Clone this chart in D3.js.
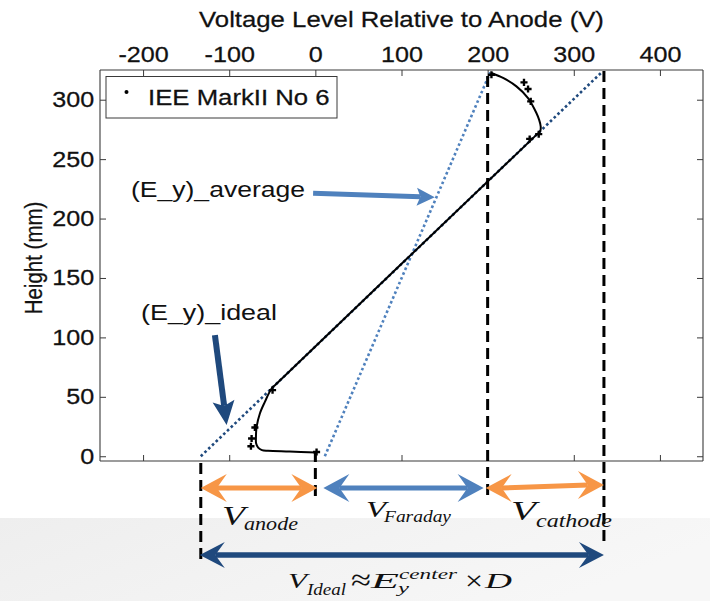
<!DOCTYPE html>
<html>
<head>
<meta charset="utf-8">
<script src="https://cdn.jsdelivr.net/npm/d3@7"></script>
<style>
  body { margin: 0; background: #fff; }
  svg { display: block; }
</style>
</head>
<body>
<svg id="chart" width="710" height="601"></svg>
<script>
// Potential along the channel height: probe readings, fitted profile,
// ideal and average field lines, and the voltage-drop breakdown beneath.

const xTicks = [-200, -100, 0, 100, 200, 300, 400];
const yTicks = [0, 50, 100, 150, 200, 250, 300];
const xDomain = [-250, 450];
const yDomain = [-4, 325];

// probe readings (V relative to anode, height in mm)
const measuredV = [1.4, -49.7, -70.2, -74.0, -74.8, 204.4, 242.2, 246.9, 250.0, 248.8, 259.3];
const measuredH = [3.6, 55.6, 24.2, 14.9, 8.4, 321.0, 314.6, 309.0, 298.6, 267.0, 271.0];

// fitted potential profile
const profileV = [1, -30, -55, -62, -66.4, -68.8, -69, -68.2, -64.4, -58.6, -50.8, -46,
                  256, 261, 261.6, 259.8, 256.6, 246.9, 233.4, 217.9, 204.4];
const profileH = [3.2, 4.0, 4.6, 5.2, 7.3, 11, 15, 24.7, 36, 45.8, 57, 60.4,
                  270, 273.4, 277.5, 283, 288.8, 301.4, 311.2, 318.3, 322.5];

// (E_y)_ideal and (E_y)_average lines
const idealV = [-133, 333];
const idealH = [0, 323.5];
const averageV = [11, 203];
const averageH = [0, 323];

// voltage boundaries: anode-side edge, anode, cathode-side start, cathode edge
const boundaryV = [-133, 0, 200, 335];

// annotation arrows (data coordinates: start, tip)
const averageArrowV = [-2.6, 138.6];
const averageArrowH = [221.3, 217.9];
const idealArrowV = [-116.6, -103];
const idealArrowH = [102, 26.3];

const legendLabel = "IEE MarkII No 6";
const STRETCH = 1.17;

const colIdeal = "#1f497d";
const colAvg = "#4f81bd";
const colOrange = "#f79646";
const sans = "'Liberation Sans', Arial, Helvetica, sans-serif";
const serif = "'Liberation Serif', 'Times New Roman', serif";

const svg = d3.select("#chart");
const x = d3.scaleLinear().domain(xDomain).range([100, 703]);
const y = d3.scaleLinear().domain(yDomain).range([461, 70]);

// light slide band at the bottom
const defs = svg.append("defs");
const grad = defs.append("linearGradient").attr("id", "band").attr("x1", 0).attr("x2", 1).attr("y1", 0).attr("y2", 0.3);
grad.append("stop").attr("offset", "0%").attr("stop-color", "#eeeeee");
grad.append("stop").attr("offset", "100%").attr("stop-color", "#f7f7f7");
svg.append("rect").attr("x", 0).attr("y", 518).attr("width", 710).attr("height", 83).attr("fill", "url(#band)");

// axes (box with inward ticks)
const axisCol = "#3a3a3a";
const gTop = svg.append("g").attr("transform", `translate(0,${y.range()[1]})`)
  .call(d3.axisTop(x).tickValues(xTicks).tickSize(-6).tickPadding(8).tickFormat(d3.format("d")));
const gBottom = svg.append("g").attr("transform", `translate(0,${y.range()[0]})`)
  .call(d3.axisBottom(x).tickValues(xTicks).tickSize(-6).tickFormat(""));
const gLeft = svg.append("g").attr("transform", `translate(${x.range()[0]},0)`)
  .call(d3.axisLeft(y).tickValues(yTicks).tickSize(-6).tickPadding(5));
const gRight = svg.append("g").attr("transform", `translate(${x.range()[1]},0)`)
  .call(d3.axisRight(y).tickValues(yTicks).tickSize(-6).tickFormat(""));

[gTop, gBottom, gLeft, gRight].forEach(g => {
  g.select(".domain").attr("stroke", axisCol).attr("stroke-width", 1.1);
  g.selectAll(".tick line").attr("stroke", axisCol).attr("stroke-width", 1);
  g.selectAll("text").attr("font-family", sans).attr("font-size", 21.5).attr("fill", "#111")
    .attr("stroke", "#111").attr("stroke-width", 0.25);
});
gTop.selectAll(".tick text").text(d => d < 0 ? "-" + Math.abs(d) : d)
  .attr("transform", `scale(${STRETCH},1)`);
gLeft.selectAll(".tick text").attr("x", -5).attr("transform", `scale(${STRETCH},1)`);
// frame lines span the full plot box
gBottom.select(".domain").attr("d", `M${x.range()[0]},0H${x.range()[1]}`);
gTop.select(".domain").attr("d", `M${x.range()[0]},0H${x.range()[1]}`);
gLeft.select(".domain").attr("d", `M0,${y.range()[0]}V${y.range()[1]}`);
gRight.select(".domain").attr("d", `M0,${y.range()[0]}V${y.range()[1]}`);

// axis titles
svg.append("text")
  .attr("transform", `translate(401.5,27) scale(${STRETCH},1)`)
  .attr("text-anchor", "middle").attr("font-family", sans).attr("font-size", 22).attr("fill", "#111")
  .attr("stroke", "#111").attr("stroke-width", 0.25)
  .text("Voltage Level Relative to Anode (V)");
svg.append("text")
  .attr("transform", `translate(41.5,258) scale(${STRETCH},1) rotate(-90)`)
  .attr("text-anchor", "middle").attr("font-family", sans).attr("font-size", 20.5).attr("fill", "#111")
  .attr("stroke", "#111").attr("stroke-width", 0.25)
  .text("Height (mm)");

// dotted field lines
const line = d3.line().x(d => x(d[0])).y(d => y(d[1]));
svg.append("path").datum(d3.zip(averageV, averageH)).attr("d", line)
  .attr("fill", "none").attr("stroke", colAvg).attr("stroke-width", 2.6).attr("stroke-dasharray", "2.6,2.6");
svg.append("path").datum(d3.zip(idealV, idealH)).attr("d", line)
  .attr("fill", "none").attr("stroke", colIdeal).attr("stroke-width", 2.6).attr("stroke-dasharray", "2.6,2.6");

// fitted profile
const smooth = d3.line().x(d => x(d[0])).y(d => y(d[1])).curve(d3.curveCatmullRom.alpha(0.5));
svg.append("path").datum(d3.zip(profileV, profileH)).attr("d", smooth)
  .attr("fill", "none").attr("stroke", "#000").attr("stroke-width", 2);

// probe readings
const cross = d3.symbol().type(d3.symbolCross).size(28);
svg.append("g").selectAll("path").data(d3.zip(measuredV, measuredH)).join("path")
  .attr("d", cross).attr("transform", d => `translate(${x(d[0])},${y(d[1])})`).attr("fill", "#000");

// dashed boundary markers
const dashExtents = [[463, 560], [451, 502], [76, 500], [71, 547]];
boundaryV.forEach((v, i) => {
  svg.append("line").attr("x1", x(v)).attr("x2", x(v))
    .attr("y1", dashExtents[i][0]).attr("y2", dashExtents[i][1])
    .attr("stroke", "#000").attr("stroke-width", 3).attr("stroke-dasharray", "11,6");
});

// legend
const leg = svg.append("g");
leg.append("rect").attr("x", 106).attr("y", 76.5).attr("width", 231).attr("height", 41.5)
  .attr("fill", "#fff").attr("stroke", axisCol).attr("stroke-width", 1);
leg.append("circle").attr("cx", 126.5).attr("cy", 92).attr("r", 2).attr("fill", "#000");
leg.append("text").attr("transform", `translate(148,104.5) scale(${STRETCH},1)`)
  .attr("font-family", sans).attr("font-size", 22).attr("fill", "#111")
  .attr("stroke", "#111").attr("stroke-width", 0.25).text(legendLabel);

// single-headed annotation arrows
function arrow(x1, y1, x2, y2, color, w, L, hw) {
  const a = Math.atan2(y2 - y1, x2 - x1);
  const ux = Math.cos(a), uy = Math.sin(a), px = -uy, py = ux;
  const bx = x2 - ux * L, by = y2 - uy * L;
  const nx = x2 - ux * L * 0.8, ny = y2 - uy * L * 0.8;
  svg.append("line").attr("x1", x1).attr("y1", y1).attr("x2", nx).attr("y2", ny)
    .attr("stroke", color).attr("stroke-width", w);
  svg.append("path").attr("d",
    `M${x2},${y2}L${bx + px * hw},${by + py * hw}L${nx},${ny}L${bx - px * hw},${by - py * hw}Z`)
    .attr("fill", color);
}
arrow(x(averageArrowV[0]), y(averageArrowH[0]), x(averageArrowV[1]), y(averageArrowH[1]), colAvg, 5, 18, 9);
arrow(x(idealArrowV[0]), y(idealArrowH[0]), x(idealArrowV[1]), y(idealArrowH[1]), colIdeal, 6, 24, 11);

svg.append("text").attr("x", 131).attr("y", 197).attr("font-family", sans).attr("font-size", 22)
  .attr("fill", "#111").attr("textLength", 174).attr("lengthAdjust", "spacingAndGlyphs").text("(E_y)_average");
svg.append("text").attr("x", 141).attr("y", 320).attr("font-family", sans).attr("font-size", 22)
  .attr("fill", "#111").attr("textLength", 136).attr("lengthAdjust", "spacingAndGlyphs").text("(E_y)_ideal");

// double-headed span arrows
function span(x1, x2, yl, yr, color, w, L, hw) {
  const g = svg.append("g");
  const nL = 0.62 * L;
  g.append("line").attr("x1", x1 + nL).attr("y1", yl).attr("x2", x2 - nL).attr("y2", yr)
    .attr("stroke", color).attr("stroke-width", w);
  g.append("path").attr("d", `M${x1},${yl}L${x1 + L},${yl - hw}L${x1 + nL},${yl}L${x1 + L},${yl + hw}Z`).attr("fill", color);
  g.append("path").attr("d", `M${x2},${yr}L${x2 - L},${yr - hw}L${x2 - nL},${yr}L${x2 - L},${yr + hw}Z`).attr("fill", color);
}
span(x(boundaryV[0]), x(boundaryV[1]) + 2, 488, 488, colOrange, 5, 26, 14);
span(x(boundaryV[1]) + 8, x(boundaryV[2]) - 4, 488, 488, colAvg, 5, 26, 14);
span(x(boundaryV[2]) - 2, x(boundaryV[3]), 488, 485, colOrange, 5, 26, 14);
span(x(boundaryV[0]) - 1, x(boundaryV[3]), 555, 555, colIdeal, 5.5, 25, 13);

// span labels
function mtext(str, px, py, size, len, italic = true) {
  svg.append("text").attr("x", px).attr("y", py).attr("font-family", serif).attr("font-size", size)
    .attr("font-style", italic ? "italic" : "normal").attr("fill", "#111")
    .attr("textLength", len).attr("lengthAdjust", "spacingAndGlyphs").text(str);
}
mtext("V", 222, 525, 28, 23);
mtext("anode", 244, 529.5, 18, 54);
mtext("V", 366, 517, 23, 20);
mtext("Faraday", 384, 522, 16, 67);
mtext("V", 511, 520, 28, 25);
mtext("cathode", 536, 527, 19, 76);

mtext("V", 288, 588, 20, 19);
mtext("Ideal", 307, 595, 16, 39);
mtext("\u2248", 351, 590, 30, 20, false);
mtext("E", 371, 588, 20, 28);
mtext("center", 399, 579, 14, 58);
mtext("y", 398, 593, 14, 11);
mtext("\u00d7", 465, 590, 28, 18, false);
mtext("D", 485, 588, 20, 27);
</script>
</body>
</html>
